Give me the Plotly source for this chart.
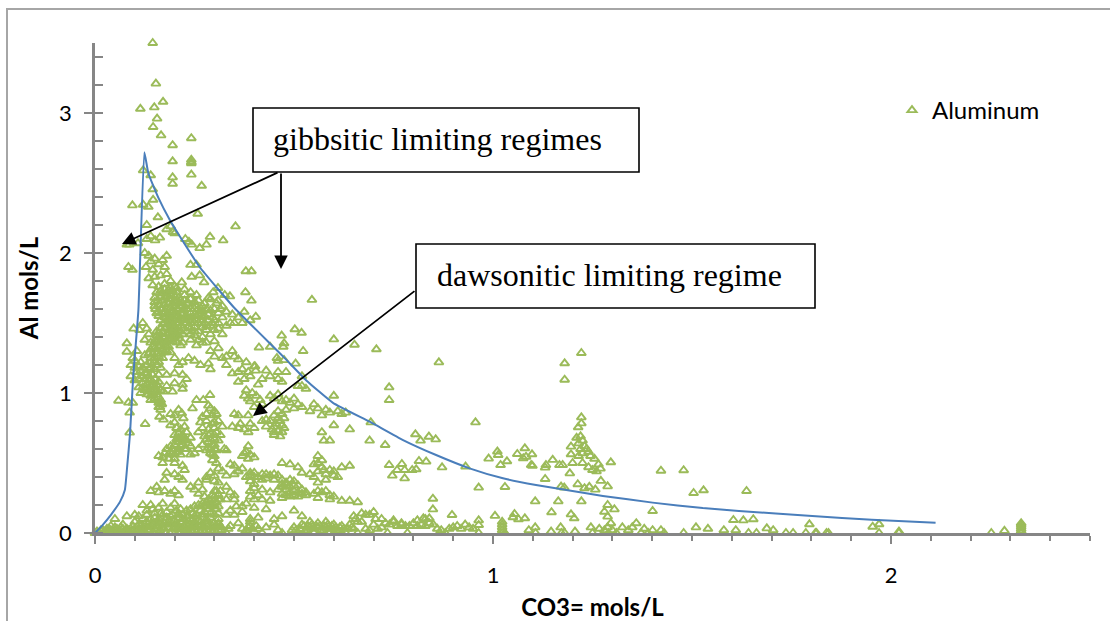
import plotly.graph_objects as go

# ---- Aluminum vs CO3= values, grouped by region (x, y) ----
upper_tail = [(.145,3.5),(.153,3.21),(.114,3.03),(.149,3.04),(.171,3.08),(.156,2.96),(.146,2.9),(.166,2.84),(.242,2.82),
 (.195,2.77),(.195,2.655),(.242,2.665),(.242,2.64),(.242,2.65),(.121,2.59),(.14,2.555),(.195,2.54),(.195,2.495),(.242,2.56),
 (.268,2.48),(.145,2.455),(.146,2.38),(.094,2.34),(.121,2.345),(.134,2.33),(.258,2.28),(.158,2.255),(.353,2.19),(.13,2.2),
 (.18,2.17),(.19,2.19),(.196,2.15),(.289,2.115),(.163,2.11),(.227,2.1),(.322,2.09),(.243,2.06),(.263,2.035),(.28,2.06),
 (.151,2.09),(.08,2.06),(.086,2.06),(.13,2.1),(.108,2.07),(.14,2.12),(.2,2.14),(.236,2.08),(.084,1.9),(.094,1.88),(.24,1.915),
 (.255,1.915),(.379,1.87),(.393,1.87),(.243,1.83),(.263,1.84),(.274,1.79),(.218,1.79),(.309,1.75),(.297,1.72),(.339,1.69),
 (.378,1.72),(.393,1.66),(.545,1.665),(.309,1.66),(.326,1.7),(.29,1.67)]

core_top = [(.125,2.0),(.135,1.98),(.14,1.94),(.15,1.96),(.128,1.9),(.145,1.88),(.16,1.92),(.17,1.95),(.175,1.9),(.18,1.98),(.18,1.85),
 (.135,1.82),(.15,1.83),(.165,1.84),(.19,1.8),(.145,1.77),(.16,1.76),(.175,1.78),(.2,1.76),(.205,1.72),(.185,1.73),(.17,1.71),
 (.225,1.74),(.24,1.72),(.255,1.7),(.26,1.66),(.275,1.64),(.285,1.68),(.3,1.6),(.15,1.68),(.15,1.65),(.15,1.62),(.152,1.6),(.158,1.66),
 (.16,1.63),(.155,1.57),(.16,1.55),(.165,1.6),(.17,1.66),(.175,1.63),(.18,1.69),(.18,1.6),(.185,1.64),(.19,1.67),(.19,1.61),(.195,1.58),
 (.2,1.66),(.2,1.62),(.205,1.6),(.21,1.68),(.21,1.64),(.215,1.57),(.22,1.62),(.225,1.66),(.23,1.6),(.235,1.64),(.24,1.57),(.245,1.62),
 (.25,1.6),(.255,1.55),(.26,1.6),(.265,1.58),(.27,1.62),(.275,1.55),(.28,1.6),(.285,1.56),(.29,1.59),(.295,1.54),(.17,1.57),(.175,1.54),
 (.18,1.56),(.185,1.53),(.19,1.55),(.195,1.52),(.2,1.55),(.205,1.53),(.21,1.55),(.215,1.52),(.22,1.56),(.225,1.53),(.23,1.55),(.235,1.52),
 (.24,1.54),(.245,1.52),(.25,1.5),(.255,1.52),(.265,1.52),(.275,1.5),(.285,1.52),(.295,1.5),(.31,1.57),(.32,1.62),(.33,1.58),(.345,1.56),
 (.36,1.54),(.375,1.58),(.39,1.52),(.404,1.545),(.37,1.5),(.35,1.5),(.33,1.48)]

core_fill = [(.18,1.72),(.19,1.7),(.195,1.73),(.185,1.67),(.195,1.64),(.2,1.69),(.205,1.65),(.215,1.62),(.21,1.59),(.2,1.57),(.19,1.58),(.18,1.52),(.185,1.49),
 (.19,1.51),(.2,1.48),(.21,1.5),(.205,1.46),(.195,1.44),(.185,1.42),(.19,1.39),(.2,1.43),(.21,1.41),(.215,1.44),(.22,1.42),(.18,1.37),(.175,1.46),(.17,1.49),
 (.165,1.52),(.17,1.4),(.16,1.43),(.165,1.34),(.175,1.29),(.18,1.33),(.17,1.36),(.16,1.38),(.155,1.41),(.155,1.31),(.15,1.37),(.145,1.33),(.14,1.31),(.135,1.28),
 (.23,1.5),(.235,1.47),(.24,1.5),(.25,1.47),(.26,1.5),(.27,1.47),(.28,1.48),(.26,1.56),(.27,1.59),(.25,1.56),(.24,1.6),(.22,1.59),(.23,1.64),(.215,1.66),(.205,1.75),
 (.19,1.75),(.175,1.74),(.165,1.73),(.155,1.72),(.165,1.69),(.17,1.6),(.16,1.58),(.175,1.68),(.225,1.7),(.24,1.67),(.25,1.65),(.27,1.54),(.29,1.48),(.3,1.45),(.31,1.46),
 (.32,1.42),(.25,1.44),(.26,1.38),(.28,1.36),(.24,1.42),(.3,1.52),(.31,1.5),(.32,1.54),(.34,1.5),(.305,1.64),(.315,1.6)]

core_mid = [(.175,1.5),(.18,1.47),(.185,1.5),(.19,1.45),(.195,1.48),(.2,1.46),(.205,1.5),(.21,1.44),(.215,1.48),(.22,1.46),(.225,1.5),
 (.23,1.44),(.165,1.46),(.17,1.43),(.16,1.4),(.175,1.4),(.18,1.42),(.185,1.38),(.19,1.41),(.195,1.37),(.2,1.4),(.205,1.36),(.21,1.39),
 (.215,1.34),(.22,1.36),(.155,1.37),(.16,1.33),(.165,1.36),(.17,1.31),(.175,1.34),(.18,1.3),(.185,1.33),(.19,1.29),(.15,1.32),(.145,1.28),
 (.15,1.25),(.155,1.28),(.16,1.26),(.165,1.28),(.17,1.25),(.14,1.25),(.097,1.46),(.112,1.45),(.12,1.5),(.13,1.46),(.135,1.42),(.125,1.38),
 (.14,1.36),(.155,1.44),(.24,1.46),(.25,1.41),(.26,1.44),(.27,1.4),(.28,1.45),(.29,1.42),(.24,1.38),(.255,1.34),(.27,1.36),(.3,1.37),(.31,1.32),
 (.29,1.3),(.3,1.26),(.32,1.25),(.33,1.26),(.345,1.3),(.35,1.26),(.36,1.24),(.38,1.22),(.37,1.17),(.385,1.15),(.4,1.19),(.39,1.12),(.36,1.15),
 (.345,1.14),(.36,1.08),(.375,1.1),(.402,1.19),(.404,1.16),(.41,1.06),(.42,1.1),(.33,1.2),(.285,1.21),(.29,1.17),(.265,1.2),(.25,1.23),
 (.22,1.22),(.235,1.25),(.2,1.25),(.21,1.2)]

left_block = [(.08,1.355),(.08,1.295),(.095,1.25),(.105,1.3),(.09,1.2),(.1,1.18),(.115,1.22),(.125,1.27),(.13,1.2),(.105,1.15),(.115,1.16),
 (.12,1.12),(.13,1.14),(.14,1.18),(.145,1.13),(.15,1.17),(.155,1.2),(.16,1.13),(.165,1.18),(.09,1.12),(.1,1.09),(.11,1.1),(.12,1.07),(.125,1.1),
 (.13,1.06),(.135,1.09),(.14,1.05),(.145,1.08),(.15,1.1),(.155,1.06),(.16,1.08),(.165,1.02),(.11,1.04),(.115,1.0),(.125,1.02),(.13,.99),(.135,1.01),
 (.14,.98),(.145,1.0),(.15,1.02),(.155,.99),(.16,.97),(.14,.95),(.15,.96),(.16,.93),(.163,.9),(.165,.88),(.168,.92),(.059,.945),(.084,.931),(.087,.86),
 (.095,.93),(.087,.717),(.126,.779),(.162,.83),(.172,.81),(.18,1.13),(.2,1.14),(.22,1.13),(.22,1.03),(.195,1.01),(.22,1.06),(.172,1.01),(.155,1.01),
 (.18,1.05),(.2,1.07),(.23,1.1),(.1,1.23),(.11,1.19),(.12,1.18),(.135,1.17),(.14,1.22),(.15,1.23),(.16,1.22),(.125,1.14),(.135,1.12),(.145,1.05),(.15,1.04),
 (.14,1.02),(.13,1.03),(.12,1.04),(.16,1.04),(.165,.95),(.16,.9),(.165,.93)]

right_upper = [(.502,1.455),(.519,1.43),(.469,1.41),(.6,1.383),(.652,1.345),(.475,1.355),(.473,1.33),(.412,1.325),(.523,1.3),(.44,1.33),
 (.457,1.25),(.475,1.235),(.504,1.21),(.46,1.23),(.52,1.12),(.44,1.12),(.43,1.16),(.46,1.1),(.46,1.15),(.48,1.15),(.47,1.08),(.51,1.05),(.53,1.03),
 (.52,1.05),(.6,.98),(.38,1.02),(.375,.98),(.385,.96),(.395,1.0),(.405,.98),(.415,.95),(.39,.94),(.4,.9),(.42,.92),(.44,.98),(.45,.96),(.46,.99),
 (.47,.94),(.48,.95),(.49,.93),(.5,.96),(.51,.92),(.52,.9),(.5,.89),(.48,.88),(.55,.92),(.56,.89),(.54,.87),(.58,.88),(.59,.86),(.61,.87),(.62,.85),
 (.63,.86),(.57,.84),(.35,.85),(.36,.84),(.385,.84),(.365,.78),(.345,.76),(.36,.75),(.375,.74),(.39,.78),(.4,.75),(.385,.72),(.43,.81),(.44,.8),(.45,.84),
 (.46,.87),(.47,.85),(.465,.8),(.47,.77),(.45,.76),(.46,.73),(.47,.72),(.45,.7),(.43,.76),(.42,.8),(.445,.74),(.57,.72),(.575,.66),(.59,.66),(.64,.74),
 (.693,.79),(.69,.66),(.6,.77),(.455,.78),(.475,.75),(.46,.82),(.475,.82),(.45,.72),(.465,.69)]

center_blob = [(.19,.85),(.2,.84),(.21,.88),(.218,.855),(.222,.82),(.2,.79),(.19,.77),(.205,.75),(.215,.74),(.225,.76),(.23,.72),(.2,.7),(.21,.68),(.22,.7),
 (.23,.66),(.24,.68),(.22,.63),(.21,.65),(.2,.63),(.19,.62),(.18,.6),(.175,.57),(.19,.58),(.2,.56),(.21,.6),(.17,.54),(.185,.53),(.2,.53),(.215,.56),
 (.23,.6),(.24,.62),(.245,.89),(.255,.95),(.272,.95),(.289,.986),(.285,.91),(.29,.89),(.3,.87),(.28,.85),(.295,.84),(.305,.85),(.27,.83),(.265,.79),
 (.28,.8),(.295,.78),(.31,.8),(.32,.76),(.3,.75),(.285,.74),(.27,.75),(.26,.72),(.275,.69),(.29,.71),(.305,.72),(.315,.7),(.3,.67),(.285,.65),(.27,.63),
 (.285,.61),(.3,.6),(.29,.57),(.3,.55),(.295,.52),(.305,.5),(.26,.6),(.25,.57),(.24,.56),(.33,.59),(.325,.6),(.385,.62),(.38,.58),(.39,.56),(.37,.55),
 (.375,.57),(.4,.54),(.385,.53),(.21,.71),(.215,.68),(.225,.67),(.22,.66),(.205,.67),(.215,.62),(.225,.6),(.235,.64),(.21,.58),(.195,.6),(.205,.58),(.185,.56),
 (.28,.67),(.29,.67),(.295,.63),(.29,.6),(.28,.59),(.3,.63),(.31,.66),(.305,.59),(.295,.56),(.285,.7),(.3,.7),(.3,.79)]

band_40 = [(.16,.55),(.17,.5),(.2,.5),(.22,.48),(.225,.45),(.175,.38),(.18,.43),(.2,.42),(.21,.4),(.22,.38),(.24,.33),(.26,.36),(.25,.31),(.27,.31),(.14,.3),
 (.155,.33),(.16,.29),(.175,.3),(.19,.28),(.2,.3),(.21,.27),(.26,.28),(.28,.4),(.29,.43),(.31,.46),(.32,.44),(.34,.49),(.3,.41),(.33,.41),(.35,.42),(.36,.44),
 (.37,.46),(.39,.43),(.28,.38),(.3,.37),(.33,.33),(.34,.29),(.35,.27),(.36,.44),(.4,.43),(.42,.42),(.44,.41),(.46,.41),(.41,.4),(.43,.39),(.45,.38),(.39,.37),
 (.4,.35),(.42,.38),(.47,.5),(.49,.49),(.51,.47),(.52,.43),(.54,.42),(.55,.4),(.56,.44),(.57,.47),(.58,.42),(.6,.41),(.62,.47),(.64,.48),(.55,.49),(.56,.55),
 (.56,.5),(.57,.52),(.575,.45),(.59,.45),(.6,.44),(.61,.4),(.58,.38),(.56,.36),(.39,.3),(.4,.32),(.42,.31),(.44,.29),(.39,.26),(.4,.24),(.41,.27),(.38,.21),
 (.47,.38),(.48,.36),(.49,.38),(.5,.37),(.51,.34),(.52,.31),(.53,.29),(.47,.33),(.48,.31),(.49,.33),(.47,.28),(.48,.27),(.5,.3),(.51,.29),(.53,.27),(.47,.25),
 (.49,.26),(.55,.28),(.56,.3),(.57,.29),(.58,.3),(.59,.27),(.6,.26),(.56,.25),(.59,.24),(.62,.23),(.64,.23),(.66,.22),(.31,.36),(.35,.48),(.33,.24),(.35,.24),
 (.42,.24),(.44,.23),(.4,.18),(.43,.17),(.47,.12),(.5,.16),(.52,.12),(.45,.1),(.65,.12),(.68,.13),(.66,.08),(.38,.4),(.39,.41),(.4,.4),(.43,.42),(.45,.42),
 (.47,.35),(.48,.34),(.5,.34),(.49,.29),(.52,.28),(.46,.31),(.5,.27),(.51,.26)]

ramp = [(.12,.2),(.13,.16),(.14,.2),(.145,.17),(.15,.14),(.16,.18),(.165,.14),(.17,.21),(.18,.15),(.19,.18),(.195,.13),(.2,.21),(.205,.16),(.21,.13),(.215,.17),
 (.22,.13),(.23,.16),(.235,.12),(.24,.17),(.245,.14),(.25,.19),(.255,.13),(.26,.2),(.265,.16),(.27,.21),(.275,.15),(.28,.22),(.285,.17),(.29,.23),(.295,.19),
 (.3,.26),(.305,.22),(.31,.27),(.315,.24),(.295,.27),(.285,.24),(.275,.26),(.305,.3),(.3,.13),(.31,.1),(.29,.11),(.305,.17),(.27,.11),(.33,.13),(.34,.16),
 (.35,.13),(.37,.15),(.39,.1),(.41,.11),(.1,.13),(.05,.1),(.08,.12),(.11,.12),(.12,.1),(.14,.1),(.16,.1),(.18,.11),(.2,.09),(.22,.1),(.24,.1),(.26,.09),(.28,.1),
 (.355,.19),(.37,.19),(.39,.08),(.36,.07),(.13,.13),(.15,.11),(.17,.13),(.19,.12),(.21,.11),(.23,.12),(.25,.12),(.27,.13),(.29,.14),(.31,.14),(.3,.2),(.31,.19),
 (.29,.2),(.3,.3),(.315,.3),(.31,.24),(.275,.19),(.265,.19),(.285,.21)]

baseline_left = [(0,0),(.005,.01),(.012,.0),(.02,.02),(.028,.0),(.035,.03),(.042,.01),(.05,.02),(.058,.0),(.065,.04),(.072,.01),(.08,.03),(.088,.0),(.095,.05),
 (.103,.01),(.11,.03),(.118,.0),(.125,.06),(.133,.02),(.14,.04),(.148,.0),(.155,.05),(.163,.02),(.17,.06),(.178,.0),(.185,.04),(.193,.01),(.2,.06),(.208,.03),
 (.215,.0),(.223,.05),(.23,.02),(.238,.07),(.245,.0),(.253,.04),(.26,.02),(.268,.06),(.275,.0),(.283,.05),(.29,.02),(.298,.07),(.305,.0),(.312,.04),(.318,.02),
 (.1,.08),(.13,.08),(.16,.08),(.19,.08),(.22,.08),(.25,.08),(.28,.08),(.31,.07),(.04,.05),(.07,.06),(.33,0),(.335,.03),(.34,.05),(.375,.0),(.38,.02),(.39,.05),
 (.4,.01),(.41,.03),(.42,.0),(.43,.04),(.45,.06),(.46,.02),(.47,.0),(.5,.04),(.51,.0),(.52,.06),(.53,.02),(.54,.08),(.55,.03),(.56,.07),(.57,.02),(.58,.08),
 (.59,.03),(.6,.06),(.61,.02),(.62,.05),(.63,.0),(.64,.06),(.65,.03),(.66,.0),(.67,.08),(.68,.03),(.69,.02),(.7,.06),(.71,.03),(.655,.1),(.67,.14),(.69,.13),
 (.7,.15),(.705,.1),(.01,.0),(.025,.01),(.045,.0),(.055,.03),(.075,.0),(.085,.02),(.098,.0),(.108,.02),(.128,.0),(.138,.02),(.15,.03),(.16,.0),(.172,.03),(.188,.0),
 (.198,.03),(.21,.0),(.225,.02),(.235,.0),(.25,.02),(.265,.0),(.28,.02),(.295,.0),(.31,.02),(.115,.05),(.145,.06),(.175,.07),(.205,.06),(.235,.05),(.265,.08),
 (.295,.05),(.315,.05),(.59,.0),(.6,.0),(.61,.0),(.62,.0),(.57,.0),(.55,.0),(.53,.0),(.56,.04),(.58,.04),(.6,.03),(.54,.04)]

baseline_fill = [(.015,.02),(.03,.03),(.04,.02),(.05,.04),(.06,.02),(.07,.03),(.08,.01),(.09,.03),(.1,.03),(.11,.06),(.12,.04),(.13,.04),(.14,.06),(.15,.07),(.16,.05),
 (.17,.04),(.18,.06),(.19,.06),(.2,.04),(.21,.05),(.22,.03),(.23,.06),(.24,.04),(.25,.06),(.26,.05),(.27,.04),(.28,.06),(.29,.05),(.3,.04),(.31,.06),
 (.37,.03),(.385,.04),(.395,.03),(.405,.05),(.495,.02),(.505,.02),(.515,.03),(.525,.05),(.535,.05),(.545,.06),(.555,.05),(.565,.05),(.575,.05),(.585,.06),(.595,.05),
 (.605,.04),(.615,.04),(.625,.03),(.635,.03),(.645,.04)]

baseline_mid = [(.72,.04),(.73,.07),(.735,.0),(.74,.06),(.75,.08),(.76,.05),(.77,.07),(.78,.05),(.785,.0),(.79,.05),(.8,.07),(.81,.05),(.82,.06),(.83,.05),(.84,.07),
 (.85,.06),(.86,.03),(.865,.0),(.87,.02),(.88,.0),(.89,.03),(.9,.04),(.91,.05),(.92,.03),(.93,.06),(.94,.04),(.95,.03),(.964,.057),(.964,.0),(.83,.1),(.81,.09),
 (.72,.1),(.75,.09),(.77,.06),(1.023,.0),(1.023,.02),(1.023,.04),(1.023,.06),(1.023,.08),(1.03,.0),(1.09,.02),(1.106,.04),(1.107,.0),(1.146,.01),(1.17,.04),
 (1.172,.0),(1.18,.0),(1.206,.01),(1.246,.04),(1.267,.03),(1.288,.04),(1.296,.07),(1.325,.04),(1.35,.04),(1.36,.07),(1.372,.0),(1.38,.03),(1.401,.02),(1.422,.02),
 (1.43,.0),(1.479,.0),(1.51,.04),(1.54,.03),(1.58,.02),(1.61,.02),(1.3,.02),(1.34,.02),(1.39,.0),(1.29,.0),(1.31,.0),(1.28,.02),(1.25,.0)]

hump_120 = [(.707,1.312),(.864,1.219),(.739,1.04),(.739,.95),(.956,.79),(.805,.705),(.818,.66),(.839,.688),(.856,.669),(.729,.629),(.739,.486),(.747,.41),(.759,.45),
 (.771,.493),(.778,.45),(.778,.39),(.797,.45),(.807,.455),(.814,.514),(.832,.51),(.872,.469),(.931,.474),(.964,.324),(.989,.531),(1.011,.581),(1.013,.557),
 (1.019,.486),(1.035,.512),(1.03,.329),(1.061,.564),(1.08,.605),(1.076,.534),(1.083,.545),(1.098,.562),(1.096,.486),(1.099,.48),(1.131,.467),(1.133,.486),
 (1.131,.386),(1.15,.522),(1.167,.486),(1.175,.486),(1.106,.226),(1.164,.226),(1.147,.148),(1.171,.331),(1.179,.324),(1.193,.426),(1.213,.348),(1.196,.617),
 (1.196,.562),(1.2,.5),(1.225,.5),(1.18,1.212),(1.18,1.095),(1.222,1.286),(1.222,.826),(1.222,.783),(1.214,.755),(1.21,.68),(1.22,.69),(1.225,.66),(1.215,.64),
 (1.23,.62),(1.22,.6),(1.235,.6),(1.24,.58),(1.225,.57),(1.245,.55),(1.215,.55),(1.255,.53),(1.265,.49),(1.24,.47),(1.25,.45),(1.26,.44),(1.27,.46),(1.296,.505),
 (1.271,.372),(1.288,.333),(1.23,.32),(1.242,.33),(1.257,.31),(1.222,.226),(1.196,.133),(1.204,.105),(1.288,.2),(1.28,.152),(1.305,.169),(1.288,.117),(1.422,.445),
 (1.479,.448),(1.504,.286),(1.529,.305),(1.401,.157),(1.604,.093),(1.005,.122),(1.054,.136),(1.05,.112),(1.064,.098),(1.08,.105),(.897,.129),(.849,.245),(.849,.169),
 (.84,.105),(.825,.105),(.964,.09),(1.629,.09),(1.654,.098),(1.637,.3)]

far_tail = [(1.642,0),(1.662,0),(1.688,.033),(1.704,.02),(1.736,0),(1.754,0),(1.795,.062),(1.786,0),(1.81,0),(1.813,0),(1.838,0),(1.843,0),(1.954,.045),(1.97,.062),(1.97,0),
 (2.02,.01),(2.02,0),(2.252,0),(2.285,.015),(2.327,0),(2.327,.015),(2.327,.03),(2.327,.045),(2.327,.06),(2.327,.07)]

regions = [upper_tail, core_top, core_fill, core_mid, left_block, right_upper, center_blob, band_40, ramp, baseline_left, baseline_fill, baseline_mid, hump_120, far_tail]
al_x = [p[0] for r in regions for p in r]
al_y = [p[1] for r in regions for p in r]

limit_x = [0,.02,.04,.063,.075,.081,.088,.096,.109,.124,.134,.16,.188,.213,.263,.351,.473,.531,.598,.69,.774,.857,.941,1.025,1.108,1.192,1.276,1.401,1.527,1.618,1.802,1.952,2.112]
limit_y = [0,.06,.13,.224,.307,.48,.71,1.12,1.59,2.72,2.57,2.39,2.236,2.12,1.9,1.605,1.26,1.09,.93,.795,.664,.557,.462,.391,.343,.303,.265,.217,.178,.157,.122,.094,.074]

x_ticks = [0, 1, 2]
y_ticks = [0, 1, 2, 3]
W, H = 1110, 621
L, R, T, B = 95, 1090, 43, 533

# plotly's "paper" space runs over the plot area only
def px(v): return (v - L) / (R - L)
def py(v): return (B - v) / (B - T)

GREEN = "#9BBB59"
GREY = "#868686"
SANS = "Lato, Carlito, sans-serif"
SERIF = "Liberation Serif, Times New Roman, serif"

fig = go.Figure()
fig.add_trace(go.Scatter(x=al_x, y=al_y, mode="markers", name="Aluminum", cliponaxis=False,
                         marker=dict(symbol="triangle-up-open", size=8, color=GREEN, line=dict(color=GREEN, width=1.9))))
fig.add_trace(go.Scatter(x=limit_x, y=limit_y, mode="lines", showlegend=False, cliponaxis=False,
                         line=dict(color="#4A7EBB", width=2, shape="spline", smoothing=0.4)))

shapes = [
    dict(type="rect", xref="paper", yref="paper", x0=px(7), x1=px(1125), y0=py(9), y1=py(640),
         line=dict(color="#A6A6A6", width=2), fillcolor="rgba(0,0,0,0)"),
]
for x0, y0, x1, y1 in [(253, 108, 639, 172), (416, 244, 815, 308)]:
    shapes.append(dict(type="rect", xref="paper", yref="paper", x0=px(x0), x1=px(x1), y0=py(y0), y1=py(y1),
                       line=dict(color="black", width=1.6), fillcolor="white", layer="above"))

annotations = [
    dict(text="gibbsitic limiting regimes", xref="paper", yref="paper", x=px(271), y=py(139), xanchor="left", yanchor="middle",
         showarrow=False, font=dict(family=SERIF, size=32, color="black")),
    dict(text="dawsonitic limiting regime", xref="paper", yref="paper", x=px(435), y=py(275), xanchor="left", yanchor="middle",
         showarrow=False, font=dict(family=SERIF, size=32, color="black")),
]
for (x0, y0), (x1, y1) in [((279, 172), (122, 244)), ((281, 172), (281, 269)), ((416, 290), (253, 416))]:
    annotations.append(dict(text="", xref="paper", yref="paper", x=px(x1), y=py(y1), ax=x0 - x1, ay=y0 - y1, axref="pixel", ayref="pixel",
                            showarrow=True, arrowhead=2, arrowsize=1.5, arrowwidth=1.8, arrowcolor="black", standoff=0, startstandoff=0))

fig.update_layout(
    width=W, height=H, paper_bgcolor="white", plot_bgcolor="white",
    margin=dict(l=L, r=W - R, t=T, b=H - B, autoexpand=False),
    font=dict(family=SANS, size=22, color="black"),
    showlegend=True,
    legend=dict(x=px(892), y=py(88), xanchor="left", yanchor="top", bgcolor="rgba(0,0,0,0)", font=dict(family=SANS, size=24), itemwidth=30),
    shapes=shapes, annotations=annotations,
    xaxis=dict(range=[0, 2.5], tickvals=x_ticks, ticks="outside", ticklen=8, tickwidth=1.5, tickcolor=GREY,
               showline=True, linecolor=GREY, linewidth=2.5, showgrid=False, zeroline=False,
               minor=dict(dtick=.1, ticks="outside", ticklen=5, tickwidth=1.5, tickcolor=GREY, showgrid=False),
               ticklabelstandoff=13,
               title=dict(text="<b>CO3= mols/L</b>", standoff=14, font=dict(family=SANS, size=24))),
    yaxis=dict(range=[0, 3.5], tickvals=y_ticks, ticks="outside", ticklen=8, tickwidth=1.5, tickcolor=GREY,
               showline=True, linecolor=GREY, linewidth=2.5, showgrid=False, zeroline=False,
               minor=dict(dtick=.2, ticks="inside", ticklen=8, tickwidth=1.5, tickcolor=GREY, showgrid=False),
               ticklabelstandoff=8,
               title=dict(text="<b>Al mols/L</b>", standoff=14, font=dict(family=SANS, size=24))),
)
fig.write_html("out.html", config=dict(displayModeBar=False), post_script="document.body.style.margin='0';")
